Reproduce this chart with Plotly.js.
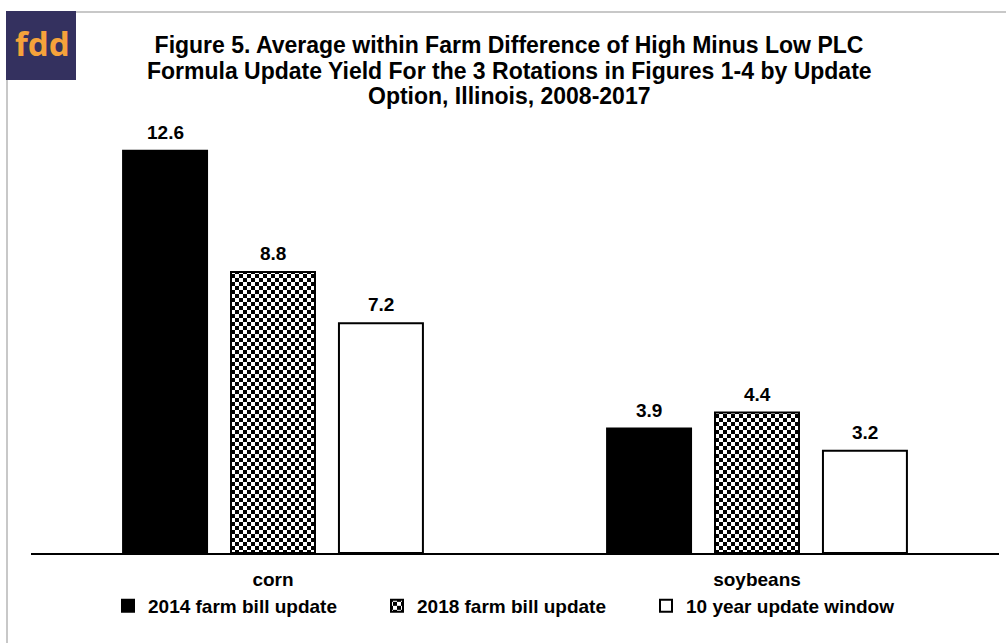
<!DOCTYPE html>
<html>
<head>
<meta charset="utf-8">
<script src="https://cdn.plot.ly/plotly-3.0.1.min.js"></script>
<style>
html,body{margin:0;padding:0;background:#fff;}
#chart{width:1006px;height:643px;}
</style>
</head>
<body>
<div id="chart"></div>
<script>
// ---- data ----
var categories = ["corn", "soybeans"];
var seriesNames = ["2014 farm bill update", "2018 farm bill update", "10 year update window"];
var values2014 = [12.6, 3.9];
var values2018 = [8.8, 4.4];
var values10yr = [7.2, 3.2];
var titleLines = [
  "Figure 5. Average within Farm Difference of High Minus Low PLC",
  "Formula Update Yield For the 3 Rotations in Figures 1-4 by Update",
  "Option, Illinois, 2008-2017"
];

// ---- layout geometry ----
var W = 1006, H = 643;
var mL = 31, mR = 7, mT = 138, mB = 90;
var plotW = W - mL - mR, plotH = H - mT - mB;
function px2x(px){ return (px - mL) / plotW; }
function py2y(py){ return (H - mB - py) / plotH; }

var FONT = "Liberation Sans, Arial, sans-serif";
var allSeries = [values2014, values2018, values10yr];
var fills = ["#000000", "#ffffff", "#ffffff"];

var data = allSeries.map(function(vals, i){
  var m = {color: fills[i], line: {color: "#000000", width: 2}};
  if (i === 1) m.pattern = {shape: "x", fgcolor: "#000000", bgcolor: "#ffffff", size: 6, solidity: 0.5};
  return {
    type: "bar",
    name: seriesNames[i],
    x: categories,
    y: vals,
    marker: m,
    hoverinfo: "x+y+name"
  };
});

var bargap = 0.331, bargroupgap = 0.222;
var slot = (1 - bargap) / 3;
var annotations = [];
allSeries.forEach(function(vals, i){
  vals.forEach(function(v, j){
    annotations.push({
      xref: "x", yref: "y",
      x: j + (i - 1) * slot, y: v,
      text: "<b>" + v.toFixed(1) + "</b>",
      showarrow: false, yanchor: "bottom", yshift: 6,
      font: {family: FONT, size: 19, color: "#000"}
    });
  });
});
// title lines 2 and 3 (line 1 is layout.title)
var titleY = [45, 71, 96];
for (var k = 1; k < titleLines.length; k++) {
  annotations.push({
    xref: "paper", yref: "paper",
    x: px2x(509), y: py2y(titleY[k]),
    text: "<b>" + titleLines[k] + "</b>", showarrow: false,
    xanchor: "center", yanchor: "middle",
    font: {family: FONT, size: 23, color: "#000"}
  });
}
// logo text
annotations.push({
  xref: "paper", yref: "paper",
  x: px2x(41.5), y: py2y(44),
  text: "<b>fdd</b>", showarrow: false,
  xanchor: "center", yanchor: "middle",
  font: {family: "Noto Sans, Open Sans, sans-serif", size: 33, color: "#f6a23b"}
});

var shapes = [
  {type: "line", xref: "paper", yref: "paper", x0: px2x(7), x1: px2x(1010), y0: py2y(12), y1: py2y(12), line: {color: "#c8c8c8", width: 2}, layer: "below"},
  {type: "line", xref: "paper", yref: "paper", x0: px2x(7), x1: px2x(7), y0: py2y(12), y1: py2y(650), line: {color: "#c8c8c8", width: 2}, layer: "below"},
  {type: "rect", xref: "paper", yref: "paper", x0: px2x(6), x1: px2x(76), y0: py2y(11), y1: py2y(80), fillcolor: "#34315f", line: {width: 0}, layer: "above"}
];

var layout = {
  width: W, height: H,
  margin: {l: mL, r: mR, t: mT, b: mB, pad: 0},
  paper_bgcolor: "#ffffff", plot_bgcolor: "#ffffff",
  font: {family: FONT, color: "#000"},
  title: {
    text: "<b>" + titleLines[0] + "</b>",
    font: {family: FONT, size: 23, color: "#000"},
    x: 509 / W, xanchor: "center",
    y: 1 - titleY[0] / H, yanchor: "middle", yref: "container"
  },
  barmode: "group",
  bargap: bargap, bargroupgap: bargroupgap,
  showlegend: true,
  legend: {
    orientation: "h",
    x: px2x(108), xanchor: "left",
    y: py2y(606), yanchor: "middle",
    entrywidth: 224,
    font: {family: FONT, size: 19, color: "#000", weight: "bold"},
    bgcolor: "rgba(0,0,0,0)",
    traceorder: "normal"
  },
  xaxis: {
    type: "category",
    showline: true, linecolor: "#000", linewidth: 2,
    ticks: "", showgrid: false, zeroline: false,
    tickfont: {family: FONT, size: 19, color: "#000", weight: "bold"},
    ticklabelstandoff: 8,
    fixedrange: true
  },
  yaxis: {
    range: [0, 13], visible: false, showgrid: false, zeroline: false, fixedrange: true
  },
  annotations: annotations,
  shapes: shapes
};

var gd = document.getElementById("chart");
Plotly.newPlot(gd, data, layout, {displayModeBar: false, staticPlot: true}).then(function(){
  var ns = "http://www.w3.org/2000/svg";
  var svg = gd.querySelector("svg.main-svg");
  var defs = svg.querySelector("defs") || svg.insertBefore(document.createElementNS(ns, "defs"), svg.firstChild);
  var pat = document.createElementNS(ns, "pattern");
  pat.setAttribute("id", "checkerPat");
  pat.setAttribute("patternUnits", "userSpaceOnUse");
  pat.setAttribute("width", "8"); pat.setAttribute("height", "8");
  [[0,0,8,8,"#fff"],[0,0,4,4,"#000"],[4,4,4,4,"#000"]].forEach(function(r){
    var e = document.createElementNS(ns, "rect");
    e.setAttribute("x", r[0]); e.setAttribute("y", r[1]);
    e.setAttribute("width", r[2]); e.setAttribute("height", r[3]);
    e.setAttribute("fill", r[4]);
    pat.appendChild(e);
  });
  defs.appendChild(pat);
  var traces = gd.querySelectorAll(".barlayer .trace");
  if (traces[1]) traces[1].querySelectorAll("path").forEach(function(p){ p.style.fill = "url(#checkerPat)"; });
  var legs = gd.querySelectorAll(".legend .traces");
  if (legs[1]) legs[1].querySelectorAll(".legendpoints path").forEach(function(p){ p.style.fill = "url(#checkerPat)"; });
});
</script>
</body>
</html>
